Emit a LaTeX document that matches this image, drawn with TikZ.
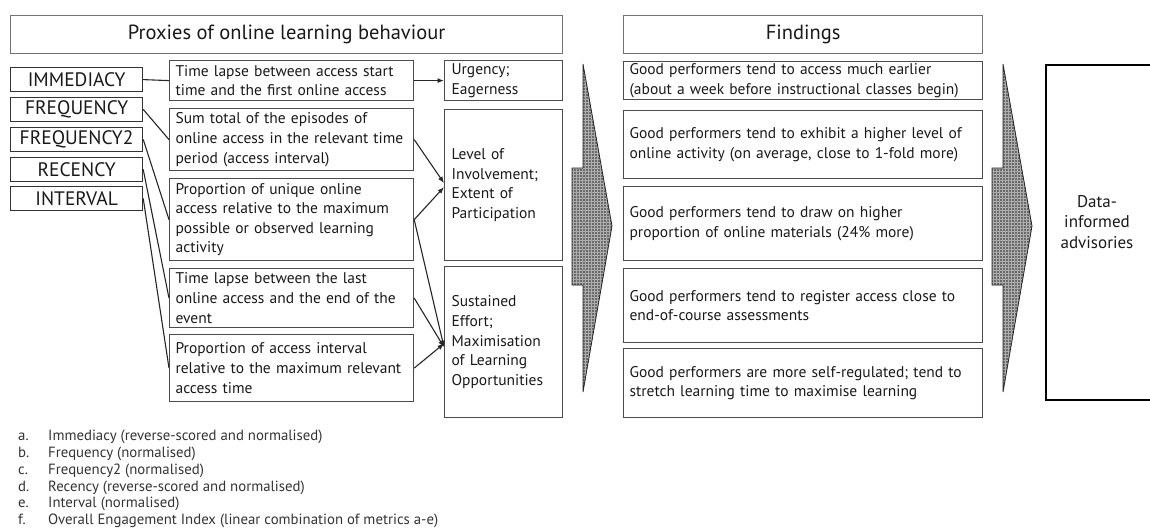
\documentclass[tikz,border=0pt]{standalone}
\usepackage{fontspec}
\setmainfont{PT Sans}
\usetikzlibrary{arrows.meta,patterns}
\newcommand{\fbody}{\fontsize{15.5}{19.6}\selectfont}
\newcommand{\ftitle}{\fontsize{20.5}{24}\selectfont}
\newcommand{\flab}{\fontsize{19.5}{21}\selectfont}
\newcommand{\ffoot}{\fontsize{14.8}{16}\selectfont}
\newcommand{\fadv}{\fontsize{17}{20.5}\selectfont}
\begin{document}
\begin{tikzpicture}[x=1pt,y=-1pt,
  hd/.style={draw=black!55, line width=1.2pt, minimum height=38pt, inner sep=0pt, anchor=north west, font=\ftitle, text=black!90},
  lab/.style={draw=black!80, line width=1.2pt, minimum width=132pt, minimum height=23.5pt, inner sep=0pt, anchor=north west, font=\flab, text=black!90},
  bx/.style={draw=black!70, line width=1.2pt, inner xsep=6pt, inner ysep=0pt, anchor=north west, align=left, font=\fbody, text=black!90},
  desc/.style={bx, text width=232pt},
  outc/.style={bx, inner xsep=7pt, text width=104pt},
  find/.style={bx, text width=347pt},
  conn/.style={line width=1.1pt, draw=black!85},
  arr/.style={conn, -{Latex[length=6.5pt,width=5pt]}},
  bigarrow/.style={draw=black!85, line width=0.8pt},
  fn/.style={anchor=base west, font=\ffoot, inner sep=0pt, text=black!80},
]
\path[use as bounding box, clip] (0,0) rectangle (1150,528);

% titles
\node[hd, minimum width=552pt] (t1) at (10,15) {Proxies of online learning behaviour};
\node[hd, minimum width=359pt] (t2) at (623,15) {Findings};

% metric labels
\node[lab, minimum height=24pt] (imm) at (10,67) {IMMEDIACY};
\node[lab] (frq) at (10,97) {FREQUENCY};
\node[lab] (frq2) at (10,127) {FREQUENCY2};
\node[lab] (rec) at (10,157) {RECENCY};
\node[lab] (int) at (10,186) {INTERVAL};

% descriptions
\node[desc, minimum height=40pt] (d1) at (169,60) {Time lapse between access start\\time and the first online access};
\node[desc, minimum height=62pt] (d2) at (169,108) {Sum total of the episodes of\\online access in the relevant time\\period (access interval)};
\node[desc, minimum height=82pt] (d3) at (169,178) {Proportion of unique online\\access relative to the maximum\\possible or observed learning\\activity};
\node[desc, minimum height=59pt] (d4) at (169,268) {Time lapse between the last\\online access and the end of the\\event};
\node[desc, minimum height=67pt] (d5) at (169,334) {Proportion of access interval\\relative to the maximum relevant\\access time};

% outcomes
\node[outc, minimum height=40pt] (urg) at (444,60) {Urgency;\\Eagerness};
\node[outc, minimum height=151pt] (lev) at (444,109) {Level of\\Involvement;\\Extent of\\Participation};
\node[outc, minimum height=151pt] (sus) at (444,266) {Sustained\\Effort;\\Maximisation\\of Learning\\Opportunities};

% findings
\node[find, minimum height=38pt] (f1) at (623,61) {Good performers tend to access much earlier\\(about a week before instructional\ classes begin)};
\node[find, minimum height=68pt] (f2) at (623,110) {Good performers tend to exhibit a higher level of\\online activity\ (on average, close to 1-fold more)};
\node[find, minimum height=74pt] (f3) at (623,186) {Good performers tend to draw on higher\\proportion of online materials (24\% more)};
\node[find, minimum height=74pt] (f4) at (623,268) {Good performers tend to register access close to\\end-of-course assessments};
\node[find, minimum height=69pt] (f5) at (623,348) {Good performers are more self-regulated; tend to\\stretch learning time to maximise learning};

% advisories
\draw[line width=2.5pt] (1160,65) -- (1046,65) -- (1046,400) -- (1160,400);
\node[font=\fadv, align=center, text=black!90, inner sep=0pt] (adv) at (1097,222) {Data-\\informed\\advisories};

% connectors left
\draw[conn] (imm.east) -- (d1.west);
\draw[conn] (frq.east) -- (d2.west);
\draw[conn] (frq2.east) -- (d3.west);
\draw[conn] (rec.east) -- (d4.west);
\draw[conn] (int.east) -- (d5.west);

% arrows right
\draw[arr] (d1.east) -- (urg.west);
\draw[arr] (d2.east) -- ([yshift=2pt]lev.west);
\draw[arr] (d3.east) -- ([yshift=-2pt]lev.west);
\draw[arr] (d3.east) -- ([yshift=-5pt]sus.west);
\draw[arr] (d4.east) -- ([yshift=-5pt]sus.west);
\draw[arr] (d5.east) -- ([yshift=-1.5pt]sus.west);

% big block arrows
\foreach \dx in {0,420}{
  \begin{scope}[xshift=\dx pt]
    \fill[black!58] (583,64) -- (612,226) -- (583,392) -- (583,285) -- (572,285) -- (572,168) -- (583,168) -- cycle;
    \fill[pattern=grid, pattern color=black!32] (583,64) -- (612,226) -- (583,392) -- (583,285) -- (572,285) -- (572,168) -- (583,168) -- cycle;
    \draw[bigarrow] (583,64) -- (612,226) -- (583,392) -- (583,285) -- (572,285) -- (572,168) -- (583,168) -- cycle;
  \end{scope}
}

% footnotes
\node[fn] (la) at (18,440) {a.};
\node[fn] (ta) at (48,440) {Immediacy (reverse-scored and normalised)};
\node[fn] (lb) at (18,457) {b.};
\node[fn] (tb) at (48,457) {Frequency (normalised)};
\node[fn] (lc) at (18,474) {c.};
\node[fn] (tc) at (48,474) {Frequency2 (normalised)};
\node[fn] (ld) at (18,491) {d.};
\node[fn] (td) at (48,491) {Recency (reverse-scored and normalised)};
\node[fn] (le) at (18,507) {e.};
\node[fn] (te) at (48,507) {Interval (normalised)};
\node[fn] (lf) at (18,524) {f.};
\node[fn] (tf) at (48,524) {Overall Engagement Index (linear combination of metrics a-e)};
\end{tikzpicture}
\end{document}
